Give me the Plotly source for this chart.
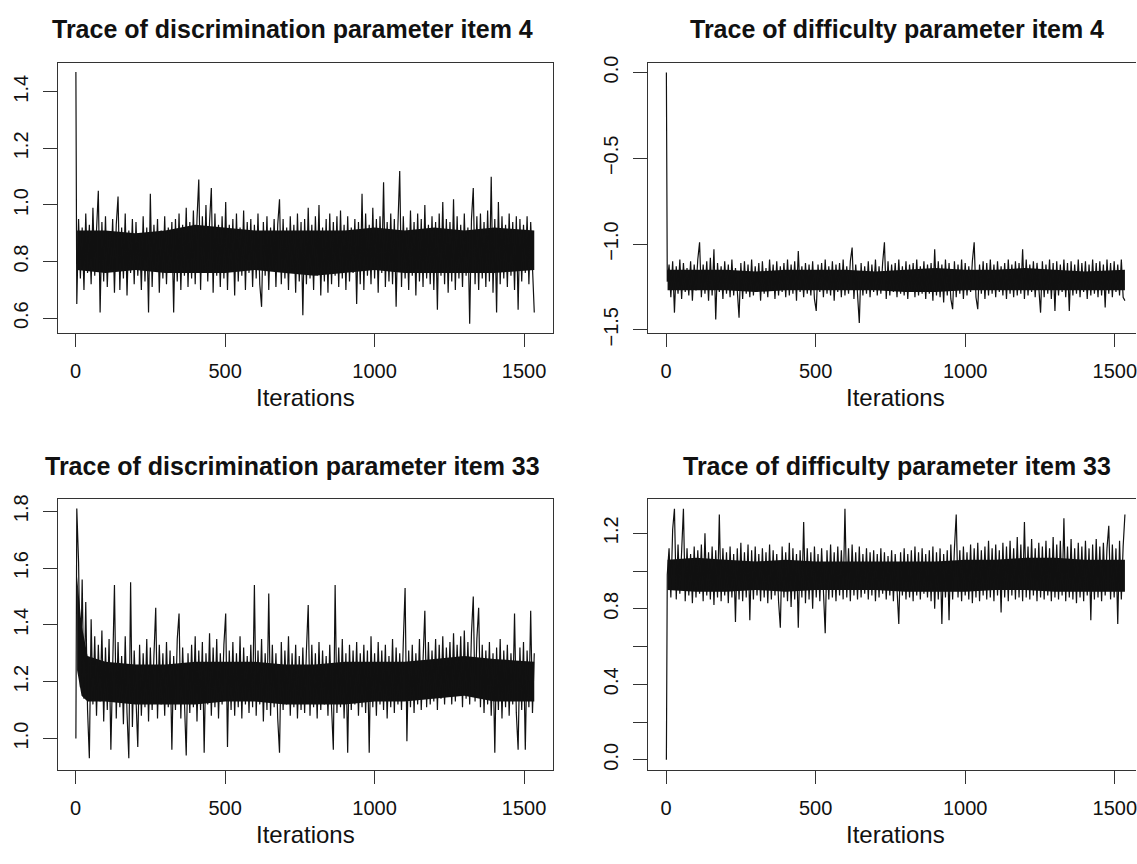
import logging

import plotly.graph_objects as go

logger = logging.getLogger(__name__)

# iteration index of each stored draw (first draw, then every 6th)
ITERATIONS = [1] + list(range(4, 1535, 6))

DISC_ITEM4 = [
    1.47,
    0.65, 0.95, 0.74, 0.92, 0.70, 0.97, 0.76, 0.93, 0.72, 0.99, 0.75, 0.91, 1.05, 0.62, 0.94, 0.73,
    0.96, 0.71, 0.90, 0.77, 0.95, 0.69, 0.93, 1.03, 0.70, 0.92, 0.74, 0.97, 0.68, 0.91, 0.76, 0.95,
    0.72, 0.94, 0.75, 0.90, 0.70, 0.96, 0.73, 0.92, 0.62, 1.04, 0.71, 0.93, 0.77, 0.95, 0.69, 0.91,
    0.74, 0.96, 0.72, 0.92, 0.76, 0.94, 0.62, 0.95, 0.73, 0.97, 0.70, 0.93, 0.75, 0.99, 0.71, 0.94,
    0.74, 0.98, 0.72, 0.95, 1.09, 0.70, 0.96, 0.76, 1.00, 0.73, 0.94, 1.06, 0.69, 0.97, 0.75, 0.93,
    0.71, 0.96, 0.74, 1.01, 0.70, 0.93, 0.77, 0.95, 0.68, 0.97, 0.73, 0.92, 0.75, 0.98, 0.70, 0.94,
    0.76, 0.95, 0.71, 0.93, 0.74, 0.97, 0.72, 0.64, 0.94, 0.75, 0.96, 0.70, 0.92, 0.77, 0.95, 0.71,
    0.93, 1.02, 0.72, 0.95, 0.74, 0.92, 0.70, 0.96, 0.76, 0.93, 0.69, 0.97, 0.73, 0.94, 0.61, 0.95,
    0.72, 0.99, 0.74, 0.93, 0.70, 0.96, 0.75, 1.00, 0.68, 0.92, 0.73, 0.95, 0.69, 0.97, 0.72, 0.94,
    0.75, 0.96, 0.71, 0.98, 0.74, 0.93, 0.70, 0.96, 0.73, 0.92, 0.76, 0.95, 0.65, 0.94, 0.72, 1.04,
    0.70, 0.97, 0.75, 0.93, 0.72, 0.99, 0.74, 0.95, 0.69, 0.96, 0.76, 1.08, 0.71, 0.94, 0.73, 0.97,
    0.72, 0.95, 0.64, 0.93, 1.12, 0.71, 0.96, 0.74, 0.92, 0.70, 0.98, 0.75, 0.94, 0.68, 0.97, 0.73,
    0.95, 0.71, 1.00, 0.74, 0.93, 0.72, 0.96, 0.70, 0.94, 0.63, 0.97, 0.75, 1.01, 0.72, 0.95, 0.69,
    0.94, 0.73, 1.02, 0.70, 0.96, 0.74, 0.93, 0.71, 0.97, 0.75, 0.92, 0.58, 0.95, 1.06, 0.72, 0.96,
    0.70, 0.97, 0.74, 0.94, 0.71, 0.98, 0.73, 1.10, 0.69, 0.95, 0.62, 1.01, 0.72, 0.96, 0.74, 0.93,
    0.71, 0.97, 0.75, 0.94, 0.70, 0.96, 0.63, 0.95, 0.73, 0.93, 0.76, 0.96, 0.72, 0.94, 0.74, 0.62,
]

DIFF_ITEM4 = [
    0.00,
    -1.22, -1.12, -1.31, -1.10, -1.40, -1.13, -1.29, -1.09, -1.32, -1.11, -1.28, -1.14, -1.30, -1.10, -1.33, -1.12,
    -1.27, -1.09, -0.99, -1.31, -1.12, -1.29, -1.10, -1.33, -1.08, -1.30, -1.03, -1.44, -1.11, -1.28, -1.13, -1.32,
    -1.10, -1.29, -1.12, -1.31, -1.09, -1.30, -1.14, -1.27, -1.43, -1.11, -1.32, -1.10, -1.29, -1.12, -1.31, -1.09,
    -1.30, -1.13, -1.28, -1.11, -1.33, -1.10, -1.29, -1.14, -1.31, -1.09, -1.27, -1.12, -1.32, -1.10, -1.30, -1.13,
    -1.28, -1.11, -1.31, -1.09, -1.30, -1.12, -1.29, -1.10, -1.33, -1.04, -1.28, -1.13, -1.31, -1.11, -1.29, -1.12,
    -1.30, -1.10, -1.32, -1.39, -1.12, -1.28, -1.11, -1.31, -1.09, -1.29, -1.13, -1.30, -1.10, -1.33, -1.12, -1.28,
    -1.11, -1.31, -1.09, -1.30, -1.13, -1.29, -1.10, -1.02, -1.32, -1.12, -1.28, -1.46, -1.11, -1.30, -1.13, -1.29,
    -1.10, -1.31, -1.12, -1.28, -1.09, -1.30, -1.13, -1.29, -1.11, -0.99, -1.32, -1.10, -1.30, -1.12, -1.28, -1.11,
    -1.31, -1.09, -1.29, -1.13, -1.30, -1.10, -1.32, -1.12, -1.28, -1.11, -1.31, -1.09, -1.30, -1.13, -1.29, -1.10,
    -1.32, -1.12, -1.29, -1.11, -1.33, -1.03, -1.30, -1.10, -1.31, -1.12, -1.34, -1.09, -1.30, -1.11, -1.32, -1.38,
    -1.10, -1.31, -1.12, -1.29, -1.09, -1.32, -1.11, -1.30, -1.13, -1.28, -1.10, -0.99, -1.31, -1.38, -1.12, -1.29,
    -1.10, -1.32, -1.11, -1.30, -1.09, -1.29, -1.12, -1.31, -1.10, -1.28, -1.13, -1.30, -1.11, -1.32, -1.09, -1.29,
    -1.12, -1.31, -1.10, -1.30, -1.11, -1.29, -1.03, -1.32, -1.09, -1.30, -1.12, -1.28, -1.10, -1.31, -1.11, -1.29,
    -1.40, -1.10, -1.31, -1.12, -1.29, -1.09, -1.32, -1.11, -1.39, -1.10, -1.30, -1.12, -1.28, -1.09, -1.31, -1.11,
    -1.39, -1.10, -1.30, -1.12, -1.29, -1.09, -1.31, -1.11, -1.28, -1.10, -1.32, -1.12, -1.30, -1.09, -1.29, -1.11,
    -1.31, -1.10, -1.30, -1.12, -1.37, -1.09, -1.29, -1.11, -1.31, -1.10, -1.28, -1.12, -1.30, -1.09, -1.31, -1.33,
]

DISC_ITEM33 = [
    1.00,
    1.81, 1.62, 1.18, 1.56, 1.14, 1.48, 1.10, 0.93, 1.42, 1.12, 1.36, 1.08, 1.33, 1.13, 1.38, 1.06,
    1.32, 1.10, 1.35, 0.96, 1.30, 1.54, 1.07, 1.34, 1.11, 1.29, 1.05, 1.36, 1.09, 0.93, 1.55, 1.04,
    1.31, 1.12, 0.97, 1.33, 1.08, 1.30, 1.11, 1.35, 1.06, 1.32, 1.10, 1.29, 1.46, 1.07, 1.33, 1.12,
    1.30, 1.08, 1.34, 1.11, 1.31, 0.96, 1.29, 1.10, 1.35, 1.44, 1.07, 1.32, 1.12, 0.94, 1.30, 1.09,
    1.33, 1.11, 1.36, 1.06, 1.31, 1.10, 1.34, 0.95, 1.30, 1.12, 1.37, 1.08, 1.32, 1.11, 1.35, 1.07,
    1.30, 1.12, 1.33, 1.44, 0.97, 1.31, 1.10, 1.34, 1.08, 1.30, 1.11, 1.36, 1.07, 1.32, 1.12, 1.29,
    1.09, 1.33, 1.11, 1.54, 1.08, 1.31, 1.12, 1.35, 1.06, 1.30, 1.10, 1.51, 1.08, 1.33, 1.11, 1.30,
    1.07, 0.95, 1.34, 1.10, 1.31, 1.12, 1.36, 1.08, 1.30, 1.11, 1.33, 1.07, 1.29, 1.10, 1.32, 1.09,
    1.31, 1.47, 1.08, 1.33, 1.11, 1.30, 1.07, 1.34, 1.10, 1.31, 1.12, 1.29, 1.08, 1.33, 1.11, 0.96,
    1.54, 1.09, 1.32, 1.11, 1.35, 1.07, 1.30, 0.95, 1.33, 1.10, 1.31, 1.12, 1.34, 1.08, 1.30, 1.11,
    1.33, 1.09, 1.31, 0.95, 1.36, 1.11, 1.30, 1.08, 1.34, 1.12, 1.31, 1.10, 1.33, 1.07, 1.29, 1.11,
    1.35, 1.09, 1.32, 1.12, 1.30, 1.10, 1.34, 1.53, 0.99, 1.31, 1.11, 1.33, 1.09, 1.30, 1.12, 1.35,
    1.10, 1.32, 1.45, 1.11, 1.34, 1.12, 1.31, 1.13, 1.35, 1.10, 1.33, 1.14, 1.36, 1.12, 1.32, 1.15,
    1.34, 1.12, 1.37, 1.13, 1.33, 1.15, 1.36, 1.11, 1.38, 1.14, 1.34, 1.12, 1.37, 1.50, 1.13, 1.35,
    1.46, 1.11, 1.33, 1.09, 1.31, 1.12, 1.34, 1.08, 1.30, 0.95, 1.32, 1.10, 1.35, 1.07, 1.31, 1.11,
    1.33, 1.08, 1.30, 1.12, 1.44, 1.09, 0.96, 1.32, 1.10, 1.34, 0.96, 1.31, 1.11, 1.45, 1.09, 1.30,
]

DIFF_ITEM33 = [
    0.00,
    0.98, 1.12, 0.86, 1.22, 1.33, 0.85, 1.14, 0.88, 1.10, 1.33, 0.84, 1.12, 0.87, 1.09, 0.83, 1.13,
    0.86, 1.11, 0.88, 1.14, 0.84, 1.20, 0.87, 1.10, 0.85, 1.13, 0.82, 1.11, 0.86, 1.30, 0.84, 1.12,
    0.87, 1.10, 0.83, 1.13, 0.86, 1.09, 0.73, 1.12, 0.85, 1.15, 0.84, 1.10, 0.86, 1.14, 0.74, 1.11,
    0.85, 1.13, 0.87, 1.09, 0.84, 1.12, 0.86, 1.10, 0.83, 1.14, 0.85, 1.11, 0.87, 1.09, 0.84, 0.70,
    1.13, 0.86, 1.10, 0.84, 1.15, 0.81, 1.12, 0.85, 1.09, 0.70, 1.11, 0.86, 1.26, 0.83, 1.12, 0.85,
    1.10, 0.80, 1.13, 0.86, 1.09, 0.84, 1.12, 0.87, 0.67, 1.11, 0.85, 1.14, 0.86, 1.10, 0.84, 1.13,
    0.87, 1.11, 0.85, 1.33, 0.86, 1.12, 0.84, 1.14, 0.87, 1.10, 0.85, 1.13, 0.86, 1.09, 0.88, 1.12,
    0.85, 1.10, 0.87, 1.11, 0.84, 1.09, 0.86, 1.12, 0.88, 1.10, 0.85, 1.08, 0.87, 1.11, 0.84, 1.09,
    0.86, 0.72, 1.10, 0.87, 1.12, 0.85, 1.09, 0.86, 1.11, 0.84, 1.13, 0.87, 1.10, 0.85, 1.12, 0.88,
    1.09, 0.86, 1.11, 0.84, 1.13, 0.80, 1.10, 0.85, 1.12, 0.72, 1.09, 0.86, 1.11, 0.74, 1.14, 0.85,
    1.12, 1.30, 0.86, 1.11, 0.84, 1.13, 0.87, 1.10, 0.85, 1.14, 0.83, 1.12, 0.86, 1.15, 0.84, 1.11,
    0.87, 1.13, 0.85, 1.16, 0.86, 1.12, 0.84, 1.14, 0.87, 1.11, 0.78, 1.15, 0.86, 1.13, 0.84, 1.16,
    0.87, 1.12, 0.85, 1.18, 0.86, 1.14, 0.84, 1.26, 0.86, 1.13, 0.85, 1.17, 0.87, 1.12, 0.84, 1.15,
    0.86, 1.13, 0.85, 1.16, 0.87, 1.12, 0.84, 1.18, 0.86, 1.14, 0.85, 1.16, 0.87, 1.28, 0.84, 1.13,
    0.86, 1.17, 0.85, 1.12, 0.83, 1.15, 0.86, 1.13, 0.84, 1.16, 0.87, 1.12, 0.74, 1.14, 0.85, 1.17,
    0.86, 1.13, 0.84, 1.15, 0.87, 1.12, 1.24, 0.85, 1.14, 0.86, 1.12, 0.72, 1.16, 0.85, 1.13, 1.30,
]

# solid core of each chain: upper / lower edge of the fully inked band
BAND_ITER = [5, 100, 200, 300, 400, 500, 600, 700, 800, 900, 1000, 1100, 1200, 1300, 1400, 1534]
BAND_ITER_33 = [5, 20, 40, 100, 200, 300, 400, 500, 600, 700, 800, 900, 1000, 1100, 1200, 1300, 1400, 1534]

DISC_ITEM4_UPPER = [0.91, 0.91, 0.90, 0.91, 0.93, 0.92, 0.91, 0.91, 0.91, 0.91, 0.92, 0.91, 0.92, 0.91, 0.92, 0.91]
DISC_ITEM4_LOWER = [0.77, 0.76, 0.77, 0.76, 0.76, 0.76, 0.77, 0.76, 0.75, 0.76, 0.77, 0.76, 0.76, 0.76, 0.76, 0.77]

DIFF_ITEM4_UPPER = [-1.15, -1.15, -1.15, -1.16, -1.15, -1.15, -1.15, -1.16, -1.15, -1.14, -1.15, -1.15, -1.14, -1.15, -1.16, -1.15]
DIFF_ITEM4_LOWER = [-1.27, -1.27, -1.27, -1.28, -1.27, -1.27, -1.27, -1.27, -1.28, -1.28, -1.27, -1.27, -1.27, -1.27, -1.27, -1.27]

DISC_ITEM33_UPPER = [1.57, 1.40, 1.29, 1.27, 1.26, 1.26, 1.27, 1.27, 1.27, 1.26, 1.26, 1.27, 1.27, 1.27, 1.28, 1.29, 1.28, 1.27]
DISC_ITEM33_LOWER = [1.24, 1.15, 1.13, 1.13, 1.12, 1.12, 1.12, 1.13, 1.13, 1.12, 1.12, 1.12, 1.13, 1.13, 1.14, 1.15, 1.13, 1.13]

DIFF_ITEM33_UPPER = [1.06, 1.07, 1.06, 1.05, 1.06, 1.05, 1.05, 1.05, 1.05, 1.05, 1.06, 1.06, 1.07, 1.07, 1.06, 1.06]
DIFF_ITEM33_LOWER = [0.90, 0.89, 0.89, 0.90, 0.89, 0.90, 0.90, 0.90, 0.89, 0.89, 0.89, 0.90, 0.90, 0.89, 0.89, 0.89]

PANEL_TITLES = [
    "Trace of discrimination parameter item 4",
    "Trace of difficulty parameter item 4",
    "Trace of discrimination parameter item 33",
    "Trace of difficulty parameter item 33",
]
X_TICKS = [0, 500, 1000, 1500]
Y_TICKS = [
    [0.6, 0.8, 1.0, 1.2, 1.4],
    [-1.5, -1.0, -0.5, 0.0],
    [1.0, 1.2, 1.4, 1.6, 1.8],
    [0.0, 0.2, 0.4, 0.6, 0.8, 1.0, 1.2],
]
Y_TICK_TEXT = [
    ["0.6", "0.8", "1.0", "1.2", "1.4"],
    ["\u22121.5", "\u22121.0", "\u22120.5", "0.0"],
    ["1.0", "1.2", "1.4", "1.6", "1.8"],
    ["0.0", "", "0.4", "", "0.8", "", "1.2"],
]

W, H = 1137, 864
FONT = "Liberation Sans, Arial, Helvetica, sans-serif"
AXIS_COLOR = "#333333"
TRACE_COLOR = "#111111"

# plot boxes in pixels: (left, right, top, bottom); right column is cut by the page edge
BOXES = [(58, 553, 57, 334), (649, 1137, 57, 334), (58, 553, 504, 782), (649, 1137, 504, 782)]
X_RANGES = [[-59, 1595], [-59, 1571], [-59, 1595], [-59, 1571]]
Y_RANGES = [[0.548, 1.503], [-1.518, 0.058], [0.889, 1.844], [-0.054, 1.383]]
BOX_CENTERS = [305.5, 896.5, 305.5, 896.5]
TITLE_CENTERS = [293, 898, 293, 898]

# the page has no body margin so the figure sits at the window origin
RESET_PAGE = "document.body.style.margin='0';document.body.style.overflow='hidden';"


def build_figure() -> go.Figure:
    """Builds the 2x2 grid of MCMC trace plots."""
    series = [DISC_ITEM4, DIFF_ITEM4, DISC_ITEM33, DIFF_ITEM33]
    bands = [
        (BAND_ITER, DISC_ITEM4_UPPER, DISC_ITEM4_LOWER),
        (BAND_ITER, DIFF_ITEM4_UPPER, DIFF_ITEM4_LOWER),
        (BAND_ITER_33, DISC_ITEM33_UPPER, DISC_ITEM33_LOWER),
        (BAND_ITER, DIFF_ITEM33_UPPER, DIFF_ITEM33_LOWER),
    ]
    fig = go.Figure()
    annotations = []

    for i, values in enumerate(series):
        if len(values) != len(ITERATIONS):
            logger.warning(f"Panel {i}: {len(values)} values for {len(ITERATIONS)} iterations")
        n = "" if i == 0 else str(i + 1)
        left, right, top, bottom = BOXES[i]
        right_col = i % 2 == 1
        band_x, band_hi, band_lo = bands[i]

        fig.add_trace(go.Scatter(
            x=band_x + band_x[::-1], y=band_hi + band_lo[::-1], mode="lines",
            fill="toself", fillcolor=TRACE_COLOR, line=dict(color=TRACE_COLOR, width=0),
            xaxis=f"x{n}", yaxis=f"y{n}", showlegend=False, hoverinfo="skip",
        ))
        fig.add_trace(go.Scatter(
            x=ITERATIONS[:len(values)], y=values, mode="lines",
            line=dict(color=TRACE_COLOR, width=1.2),
            xaxis=f"x{n}", yaxis=f"y{n}", showlegend=False, hoverinfo="skip",
        ))

        fig.layout[f"xaxis{n}"] = dict(
            domain=[left / W, right / W], anchor=f"y{n}", range=X_RANGES[i],
            tickvals=X_TICKS, ticktext=[str(t) for t in X_TICKS],
            ticks="outside", ticklen=13, tickwidth=1, tickcolor=AXIS_COLOR,
            showline=True, linecolor=AXIS_COLOR, linewidth=1, mirror=True,
            showgrid=False, zeroline=False, ticklabelstandoff=7,
            ticklabeloverflow="allow",
            tickfont=dict(family=FONT, size=20, color="#111111"),
        )
        fig.layout[f"yaxis{n}"] = dict(
            domain=[1 - bottom / H, 1 - top / H], anchor=f"x{n}", range=Y_RANGES[i],
            tickvals=Y_TICKS[i], ticktext=Y_TICK_TEXT[i], tickangle=-90,
            ticks="outside", ticklen=14, tickwidth=1, tickcolor=AXIS_COLOR,
            showline=True, linecolor=AXIS_COLOR, linewidth=1, mirror=not right_col,
            showgrid=False, zeroline=False, ticklabelstandoff=7,
            ticklabeloverflow="allow",
            tickfont=dict(family=FONT, size=20, color="#111111"),
        )

        annotations.append(dict(
            text=f"<b>{PANEL_TITLES[i]}</b>", xref="paper", yref="paper",
            x=TITLE_CENTERS[i] / W, y=1 - (top - 34) / H,
            xanchor="center", yanchor="middle", showarrow=False,
            font=dict(family=FONT, size=25, color="#111111"),
        ))
        annotations.append(dict(
            text="Iterations", xref="paper", yref="paper",
            x=BOX_CENTERS[i] / W, y=1 - (bottom + 66) / H,
            xanchor="center", yanchor="middle", showarrow=False,
            font=dict(family=FONT, size=24, color="#111111"),
        ))

    fig.update_layout(
        width=W, height=H, margin=dict(l=0, r=0, t=0, b=0),
        paper_bgcolor="white", plot_bgcolor="white",
        annotations=annotations,
    )
    return fig


if __name__ == "__main__":
    logging.basicConfig(level=logging.INFO)
    fig = build_figure()
    fig.write_html("out.html", post_script=RESET_PAGE, config={"displayModeBar": False})
    logger.info("Wrote out.html")
